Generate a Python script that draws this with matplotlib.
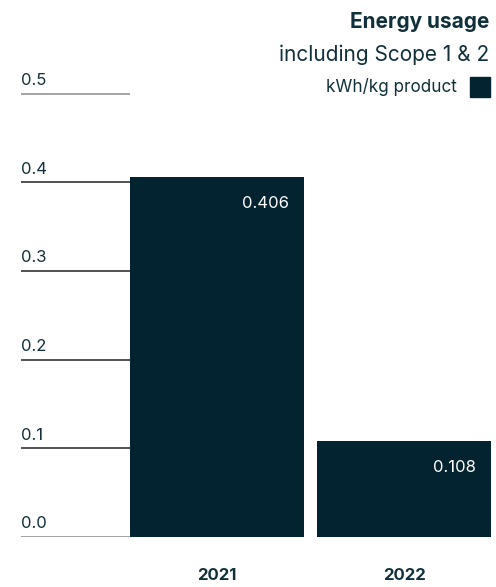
import matplotlib
matplotlib.use("Agg")
import matplotlib.pyplot as plt
from matplotlib.patches import Rectangle

# ======= DATA ========
years = ["2021", "2022"]
usage = [0.406, 0.108]
y_ticks = [0.0, 0.1, 0.2, 0.3, 0.4, 0.5]
tick_labels = ["0.0", "0.1", "0.2", "0.3", "0.4", "0.5"]
title = "Energy usage"
subtitle = "including Scope 1 & 2"
unit = "kWh/kg product"
# =====================

NAVY = "#02232f"
TEXT = "#10303b"
W, H = 496, 587

plt.rcParams["font.family"] = ["Inter", "DejaVu Sans"]

fig = plt.figure(figsize=(W / 100, H / 100), dpi=100)
ax = fig.add_axes([21 / W, 50 / H, 470 / W, 0.55 * 887 / H])

bar_w = 0.93
x = list(range(len(years)))
ax.bar(x, usage, width=bar_w, color=NAVY, zorder=2)
ax.set_xlim(-1.048, 1.465)
ax.set_ylim(0, 0.55)
ax.axis("off")

# grid lines only on the left of the first bar, with their labels above
left_edge = x[0] - bar_w / 2
for val, lab in zip(y_ticks, tick_labels):
    col = "#8a8a8a" if val in (0.0, 0.5) else "#222222"
    ax.plot([-1.048, left_edge], [val, val], color=col, lw=1.1, zorder=1,
            solid_capstyle="butt")
    ax.annotate(lab, (-1.048, val), xytext=(0, 4), textcoords="offset points",
                ha="left", va="bottom", fontsize=12, color=TEXT)

# value labels inside the bars
for xi, v in zip(x, usage):
    ax.annotate(f"{v:.3f}", (xi + bar_w / 2, v), xytext=(-11, -19),
                textcoords="offset points", ha="right", va="center",
                fontsize=12, color="white")

# year labels below
for xi, yr in zip(x, years):
    ax.annotate(yr, (xi, 0), xytext=(0, -28), textcoords="offset points",
                ha="center", va="center", fontsize=12, fontweight="bold",
                color=TEXT, annotation_clip=False)

# header and legend
fig.text(489 / W, 1 - 22 / H, title, ha="right", va="center",
         fontsize=15, fontweight="bold", color=TEXT)
fig.text(489 / W, 1 - 55 / H, subtitle, ha="right", va="center",
         fontsize=15, color=TEXT)
fig.text(457 / W, 1 - 87 / H, unit, ha="right", va="center",
         fontsize=12.3, color=TEXT)
fig.patches.append(Rectangle((470 / W, 1 - 97 / H), 20 / W, 20 / H,
                             transform=fig.transFigure, color=NAVY))

fig.savefig("out.png", dpi=100, facecolor="white")
